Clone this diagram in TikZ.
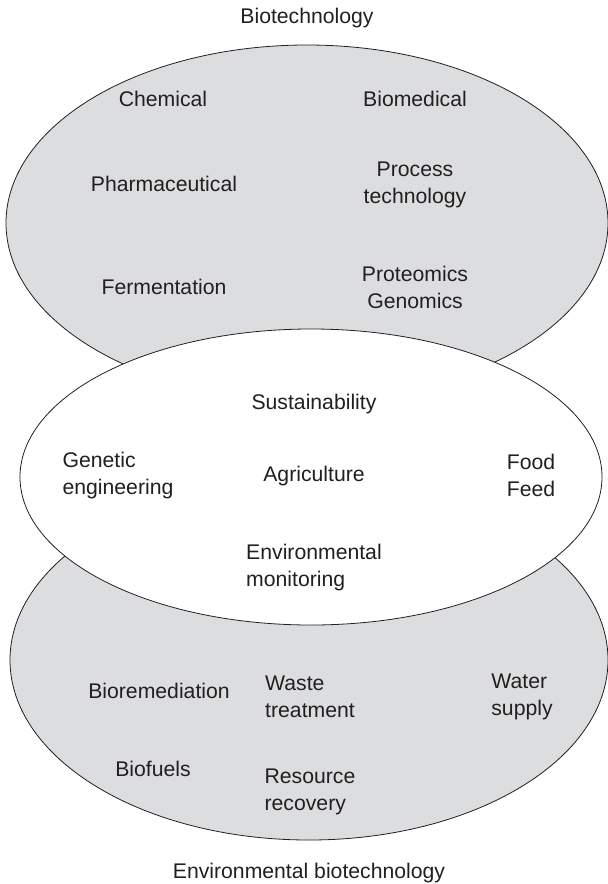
\documentclass[tikz,border=0pt]{standalone}
\usepackage{fontspec}
\setmainfont{Liberation Sans}
\usetikzlibrary{shapes.geometric}
\definecolor{lobe}{RGB}{220,221,223}
\definecolor{ink}{RGB}{35,31,32}
\begin{document}
\begin{tikzpicture}[x=1pt,y=-1pt,
  lobe/.style={ellipse,draw=ink,line width=0.8pt,inner sep=0pt},
  lbl/.style={text=ink,font=\fontsize{21.2}{27}\selectfont,inner sep=0pt},
  lbll/.style={lbl,align=left},
  lblc/.style={lbl,align=center}]
\useasboundingbox (0,0) rectangle (608,884);
% ellipses
\node[lobe,fill=lobe,minimum width=602pt,minimum height=356pt] (bio) at (307,223) {};
\node[lobe,fill=lobe,minimum width=598pt,minimum height=360pt] (env) at (309,660) {};
\node[lobe,fill=white,minimum width=582pt,minimum height=296pt] (mid) at (311,477) {};
% titles
\node[lbl] (tbio) at (307,18) {Biotechnology};
\node[lbl] (tenv) at (309,873) {Environmental biotechnology};
% top lobe
\node[lbl] (chem) at (163,99) {Chemical};
\node[lbl] (biomed) at (415,99) {Biomedical};
\node[lbl] (pharm) at (164,184) {Pharmaceutical};
\node[lblc] (proc) at (415,185) {Process\\technology};
\node[lbl] (ferm) at (164,287) {Fermentation};
\node[lblc] (prot) at (415,287) {Proteomics\\Genomics};
% middle lobe
\node[lbl] (sust) at (314,404) {Sustainability};
\node[lbll] (gen) at (118,476) {Genetic\\engineering};
\node[lbl] (agri) at (314,476) {Agriculture};
\node[lbll] (food) at (531,475) {Food\\Feed};
\node[lbll] (envm) at (314,568) {Environmental\\monitoring};
% bottom lobe
\node[lbl] (biorem) at (159,691) {Bioremediation};
\node[lbll] (waste) at (310,697) {Waste\\treatment};
\node[lbll] (water) at (522,697) {Water\\supply};
\node[lbl] (biofuel) at (153,769) {Biofuels};
\node[lbll] (res) at (310,792) {Resource\\recovery};
\end{tikzpicture}
\end{document}
